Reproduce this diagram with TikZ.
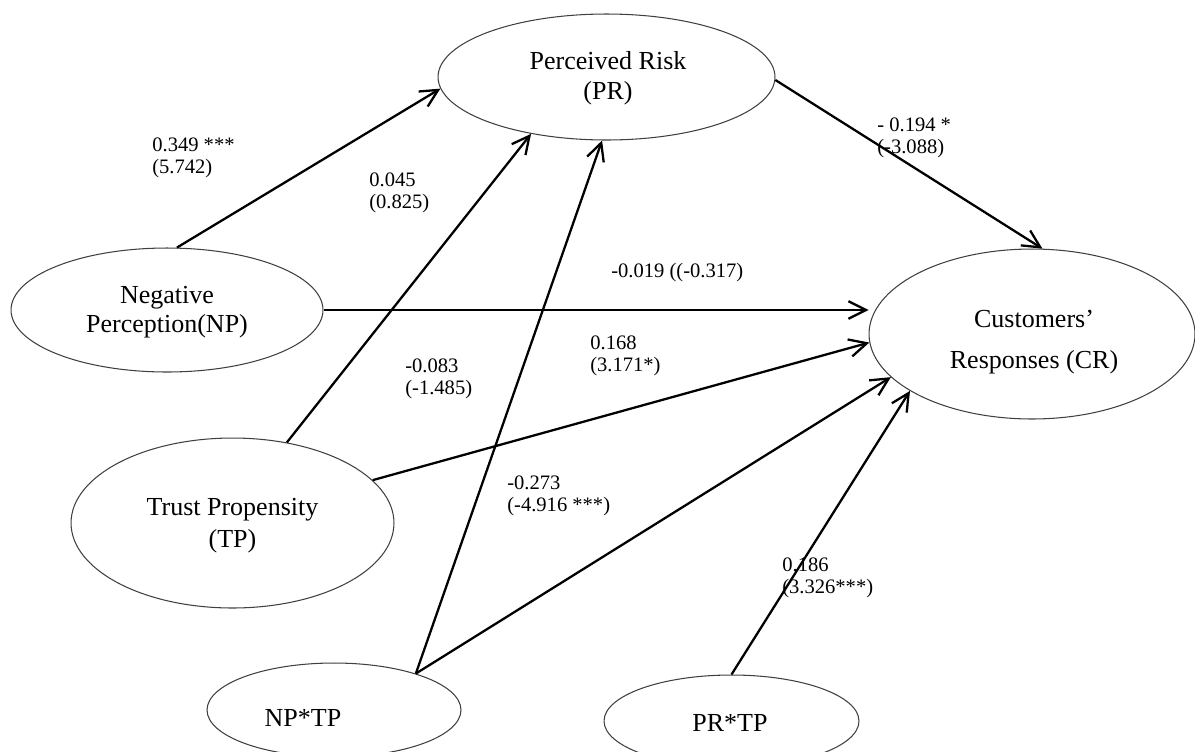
\documentclass[tikz,border=0pt]{standalone}
\usepackage{fontspec}
\setmainfont{Liberation Serif}
\usetikzlibrary{shapes.geometric,arrows.meta}
\begin{document}
\begin{tikzpicture}[x=0.02cm,y=-0.02cm,
  ell/.style={draw=black!75, line width=0.6pt, ellipse, inner sep=0pt},
  etext/.style={inner sep=0pt, align=center, font=\fontsize{14.8}{17}\selectfont},
  conn/.style={line width=1.3pt, -{Straight Barb[length=10pt,width=10pt,line width=1.3pt]}},
  lab/.style={anchor=west, inner sep=0pt, align=left, font=\fontsize{11.7}{12.5}\selectfont}]
\useasboundingbox (0,0) rectangle (1195,751);
% ellipses
\node[ell, minimum width=6.74cm, minimum height=2.52cm] (PR) at (606.5,77) {};
\node[ell, minimum width=6.24cm, minimum height=2.48cm] (NP) at (167,310) {};
\node[ell, minimum width=6.46cm, minimum height=3.4cm] (TP) at (232.5,523) {};
\node[ell, minimum width=6.52cm, minimum height=3.4cm] (CR) at (1032,334) {};
\node[ell, minimum width=5.08cm, minimum height=1.88cm] (NPTP) at (334,710) {};
\node[ell, minimum width=5.1cm, minimum height=1.84cm] (PRTP) at (731.5,721) {};
% texts
\node[etext] (PRt) at (608,78) {Perceived Risk\\(PR)};
\node[etext] (NPt) at (167,312.5) {Negative\\[-0.6pt]Perception(NP)};
\node[etext] (TPt) at (232.5,526) {Trust Propensity\\[1.1pt](TP)};
\node[etext] (CRt) at (1034,342) {Customers’\\[6.2pt]Responses (CR)};
\node[etext] (NPTPt) at (303,718) {NP*TP};
\node[etext] (PRTPt) at (730,723) {PR*TP};
% connectors
\draw[conn] (NP.81.7) -- (PR.184.4);
\draw[conn] (TP.56.7) -- (PR.217.8);
\draw[conn] (NPTP.24.5) -- (PR.266.9);
\draw[conn] (PR.359) -- (CR.83.4);
\draw[conn] (NP.east) -- (NP.east -| CR.west);
\draw[conn] (TP.17.2) -- (CR.183.1);
\draw[conn] (NPTP.24.5) -- (CR.197.4);
\draw[conn] (PRTP.90) -- (CR.205);
% labels
\node[lab] (l1) at (152,158) {0.349 ***\\(5.742)};
\node[lab] (l2) at (369,193) {0.045\\(0.825)};
\node[lab] (l3) at (877,138) {- 0.194 *\\(-3.088)};
\node[lab] (l4) at (611,273) {-0.019 ((-0.317)};
\node[lab] (l5) at (590,356) {0.168\\(3.171*)};
\node[lab] (l6) at (405,379) {-0.083\\(-1.485)};
\node[lab] (l7) at (507,496) {-0.273\\(-4.916 ***)};
\node[lab] (l8) at (782,578) {0.186\\(3.326***)};
\end{tikzpicture}
\end{document}
